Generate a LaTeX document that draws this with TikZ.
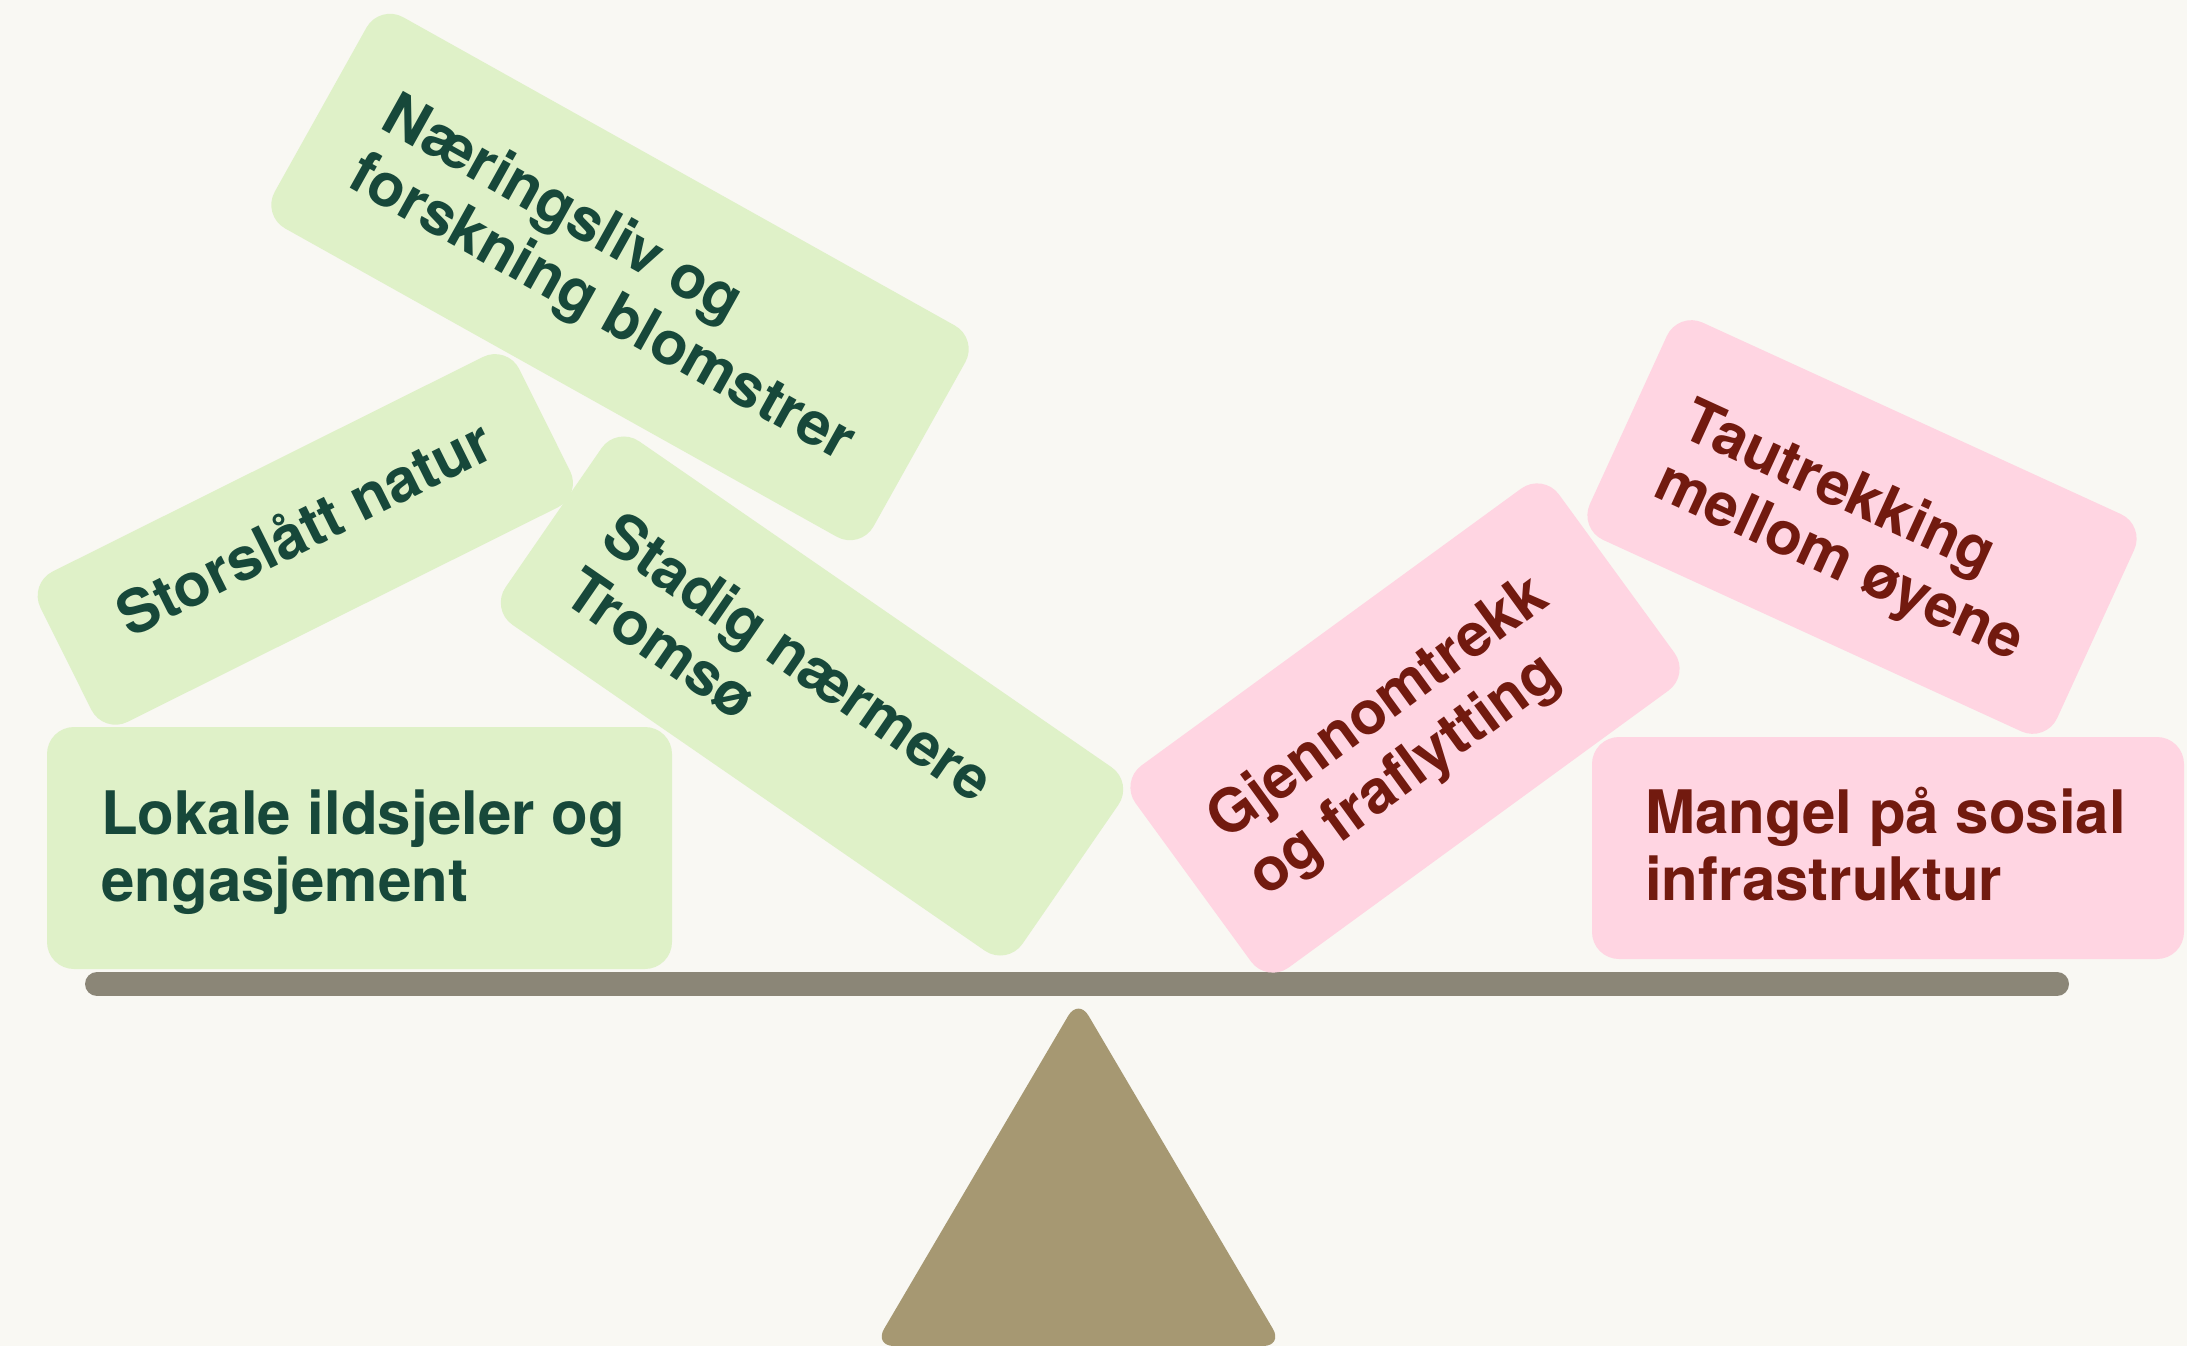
\documentclass[tikz,border=0pt]{standalone}
\usepackage{fontspec}
\setmainfont{TeX Gyre Heros}
\definecolor{bgc}{HTML}{F9F8F3}
\definecolor{greenfill}{HTML}{DFF1C8}
\definecolor{greentext}{HTML}{17483A}
\definecolor{pinkfill}{HTML}{FFD5E2}
\definecolor{redtext}{HTML}{721A0F}
\definecolor{beamc}{HTML}{8B8677}
\definecolor{fulcrumc}{HTML}{A69872}
\tikzset{
  card/.style={shape=rectangle, rounded corners=27pt, inner sep=0pt, transform shape},
  gcard/.style={card, fill=greenfill},
  pcard/.style={card, fill=pinkfill},
  cardtext/.style={inner sep=0pt, anchor=base west, transform shape,
    font=\bfseries\fontsize{60}{67}\selectfont},
  gtext/.style={cardtext, text=greentext},
  ptext/.style={cardtext, text=redtext},
  beamline/.style={draw=beamc, line width=24pt, line cap=round},
  fulcrum/.style={fill=fulcrumc, rounded corners=20pt}
}
\begin{document}
\begin{tikzpicture}[x=1pt,y=-1pt]
\useasboundingbox (0,0) rectangle (2187,1346);
\fill[bgc] (0,0) rectangle (2187,1346);

% fulcrum and beam
\fill[fulcrum] (1078.4,998.5) -- (1283,1346) -- (874,1346) -- cycle;
\coordinate (beamL) at (97,984);
\coordinate (beamR) at (2057,984);
\draw[beamline] (beamL) -- (beamR);

% flat cards
\node[gcard, minimum width=625pt, minimum height=242pt] (lok) at (359.5,848) {};
\node[gtext] (lok1) at (101,834) {Lokale ildsjeler og};
\node[gtext] (lok2) at (101,901) {engasjement};

\node[pcard, minimum width=592pt, minimum height=222pt] (man) at (1888,848) {};
\node[ptext] (man1) at (1645,833) {Mangel på sosial};
\node[ptext] (man2) at (1645,900) {infrastruktur};

% Storslått natur
\begin{scope}[shift={(305.3,539.4)}, rotate=26.5]
\node[gcard, minimum width=535pt, minimum height=168pt] (sto) at (0,0) {};
\node[gtext] (sto1) at (-201,11) {Storslått natur};
\end{scope}

% Næringsliv
\begin{scope}[shift={(620,277)}, rotate=-29.2]
\node[gcard, minimum width=686pt, minimum height=242pt] (nar) at (0,0) {};
\node[gtext] (nar1) at (-284,-13) {Næringsliv og};
\node[gtext] (nar2) at (-284,54) {forskning blomstrer};
\end{scope}

% Stadig nærmere Tromsø
\begin{scope}[shift={(812,696)}, rotate=-34.6]
\node[gcard, minimum width=628pt, minimum height=223pt] (sta) at (0,0) {};
\node[gtext] (sta1) at (-262,-3) {Stadig nærmere};
\node[gtext] (sta2) at (-262,64) {Tromsø};
\end{scope}

% Gjennomtrekk
\begin{scope}[shift={(1405,728)}, rotate=36.1]
\node[pcard, minimum width=524pt, minimum height=250pt] (gje) at (0,0) {};
\node[ptext] (gje1) at (-212,-14) {Gjennomtrekk};
\node[ptext] (gje2) at (-212,55) {og fraflytting};
\end{scope}

% Tautrekking
\begin{scope}[shift={(1862,527)}, rotate=-24.6]
\node[pcard, minimum width=514pt, minimum height=239pt] (tau) at (0,0) {};
\node[ptext] (tau1) at (-205,-7) {Tautrekking};
\node[ptext] (tau2) at (-205,59) {mellom øyene};
\end{scope}
\end{tikzpicture}
\end{document}
